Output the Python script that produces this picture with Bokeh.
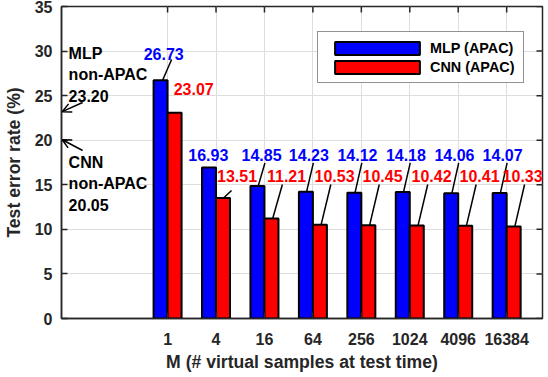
import numpy as np
from bokeh.plotting import figure
from bokeh.models import (Range1d, FixedTicker, ColumnDataSource, Label, Arrow, OpenHead)
from bokeh.embed import file_html
from bokeh.resources import INLINE

# ---------------- data ----------------
m_labels = ["1", "4", "16", "64", "256", "1024", "4096", "16384"]
mlp_apac = [26.73, 16.93, 14.85, 14.23, 14.12, 14.18, 14.06, 14.07]
cnn_apac = [23.07, 13.51, 11.21, 10.53, 10.45, 10.42, 10.41, 10.33]
mlp_non_apac = 23.20
cnn_non_apac = 20.05
y_ticks = [0, 5, 10, 15, 20, 25, 30, 35]

# value-label placement (offset from category, height in data units)
mlp_label_dx = [-0.08, -0.16, -0.06, -0.083, -0.08, -0.08, -0.077, -0.083]
mlp_label_y = [29.7, 18.35, 18.35, 18.35, 18.35, 18.35, 18.35, 18.35]
cnn_label_dx = [0.54, 0.434, 0.456, 0.447, 0.437, 0.449, 0.44, 0.33]
cnn_label_y = [25.8, 15.93, 15.93, 15.93, 15.93, 15.93, 15.93, 15.93]
# leader lines: (has_line, dx bottom, dx top, y top)
mlp_leader = [(1, -0.103, 0.083, 29.05)] + [(0, 0, 0, 0)] + [(1, -0.13, 0.01, 17.45)] * 6
cnn_leader = [(0, 0, 0, 0)] + [(1, 0.156, 0.32, 14.36)] + [(1, 0.17, 0.37, 15.03)] * 6

FONT = "Liberation Sans"
AX = "#262626"
BAR_W = 0.289
X0, X1 = -1.19, 8.74
Y0, Y1 = 0, 35

pos = np.arange(1, len(m_labels) + 1)

p = figure(width=548, height=377, x_range=Range1d(X0, X1), y_range=Range1d(Y0, Y1),
           output_backend="svg", toolbar_location=None,
           min_border_left=61, min_border_right=6, min_border_top=6, min_border_bottom=59)

p.outline_line_color = AX
p.outline_line_width = 1.5
p.outline_line_alpha = 1.0

# axes
xa = p.xaxis[0]
xa.ticker = FixedTicker(ticks=list(pos))
xa.major_label_overrides = {int(k): v for k, v in zip(pos, m_labels)}
xa.axis_label = "M (# virtual samples at test time)"
ya = p.yaxis[0]
ya.ticker = FixedTicker(ticks=y_ticks)
ya.axis_label = "Test error rate (%)"
for ax in (xa, ya):
    ax.major_tick_in = 6
    ax.major_tick_out = 0
    ax.minor_tick_in = 0
    ax.minor_tick_out = 0
    ax.axis_line_color = AX
    ax.axis_line_width = 1.5
    ax.major_tick_line_color = AX
    ax.major_tick_line_width = 1.5
    ax.major_label_text_font = FONT
    ax.major_label_text_font_style = "bold"
    ax.major_label_text_font_size = "16px"
    ax.major_label_text_color = AX
    ax.axis_label_text_font = FONT
    ax.axis_label_text_font_style = "bold"
    ax.axis_label_text_font_size = "17.6px"
    ax.axis_label_text_color = AX
xa.major_label_standoff = 14
xa.axis_label_standoff = 4
ya.major_label_standoff = 9
ya.axis_label_standoff = 8

p.xgrid.ticker = FixedTicker(ticks=list(pos))
p.ygrid.ticker = FixedTicker(ticks=y_ticks)
for g in (p.xgrid[0], p.ygrid[0]):
    g.grid_line_color = "#dedede"
    g.grid_line_width = 1

# inward ticks on top and right edges of the box
p.scatter(x=pos, y=[Y1] * len(pos), marker="dash", size=12, angle=np.pi / 2,
          line_color=AX, line_width=1.5)
p.scatter(x=[X1] * len(y_ticks), y=y_ticks, marker="dash", size=12,
          line_color=AX, line_width=1.5)

# bars
src = ColumnDataSource(dict(xb=pos - BAR_W / 2, xr=pos + BAR_W / 2,
                            mlp=mlp_apac, cnn=cnn_apac))
p.vbar(x="xb", top="mlp", width=BAR_W, source=src, fill_color="#0000ff",
       line_color="black", line_width=2, legend_label="MLP (APAC)")
p.vbar(x="xr", top="cnn", width=BAR_W, source=src, fill_color="#ff0000",
       line_color="black", line_width=2, legend_label="CNN (APAC)")

# leader lines
def leaders(vals, spec):
    x0, y0, x1, y1 = [], [], [], []
    for i, (v, (has, d0, d1, yt)) in enumerate(zip(vals, spec)):
        if has:
            x0.append(pos[i] + d0); y0.append(v); x1.append(pos[i] + d1); y1.append(yt)
    return dict(x0=x0, y0=y0, x1=x1, y1=y1)

p.segment(source=ColumnDataSource(leaders(mlp_apac, mlp_leader)), x0="x0", y0="y0",
          x1="x1", y1="y1", line_color="black", line_width=1.5)
p.segment(source=ColumnDataSource(leaders(cnn_apac, cnn_leader)), x0="x0", y0="y0",
          x1="x1", y1="y1", line_color="black", line_width=1.5)

# value labels
for vals, dxs, ys, col in ((mlp_apac, mlp_label_dx, mlp_label_y, "#0000ff"),
                           (cnn_apac, cnn_label_dx, cnn_label_y, "#ff0000")):
    for i, (v, dx, yy) in enumerate(zip(vals, dxs, ys)):
        p.add_layout(Label(x=float(pos[i] + dx), y=yy, text=f"{v:.2f}", text_align="center",
                           text_baseline="middle", text_font=FONT, text_font_style="bold",
                           text_font_size="16px", text_color=col))

# non-APAC annotations
for yy, txt in ((30.68, f"MLP\nnon-APAC\n{mlp_non_apac:.2f}"),
                (18.45, f"CNN\nnon-APAC\n{cnn_non_apac:.2f}")):
    p.add_layout(Label(x=-1.043, y=yy, text=txt, text_align="left", text_baseline="top",
                       text_font=FONT, text_font_style="bold", text_font_size="16px",
                       text_color="black", text_line_height=1.25))
for ys, ye in ((24.23, mlp_non_apac), (18.85, cnn_non_apac)):
    p.add_layout(Arrow(end=OpenHead(size=9, line_width=1.5, line_color="black"),
                       x_start=-0.754, y_start=ys, x_end=-1.175, y_end=ye,
                       line_width=1.5, line_color="black"))

# legend
lg = p.legend[0]
lg.location = (256, 235)
lg.border_line_color = AX
lg.border_line_width = 1.5
lg.background_fill_color = "white"
lg.background_fill_alpha = 1.0
lg.label_text_font = FONT
lg.label_text_font_style = "bold"
lg.label_text_font_size = "14.4px"
lg.label_text_color = "black"
lg.glyph_width = 106
lg.glyph_height = 16
lg.label_standoff = 0
lg.padding = 6
lg.spacing = 0
lg.margin = 0
lg.label_width = 87
lg.label_height = 19

open("out.html", "w").write(file_html(p, INLINE))
